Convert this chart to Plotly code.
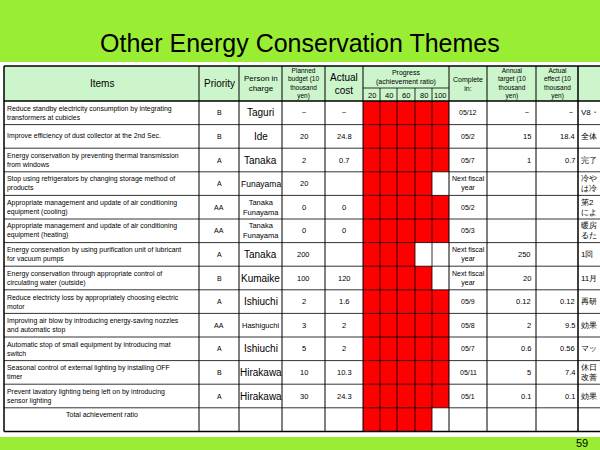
import plotly.graph_objects as go

TITLE = "Other Energy Conservation Themes"
items = [
    "Reduce standby electricity consumption by integrating<br>transformers at cubicles",
    "Improve efficiency of dust collector at the 2nd Sec.",
    "Energy conservation by preventing thermal transmission<br>from windows",
    "Stop using refrigerators by changing storage method of<br>products",
    "Appropriate management and update of air conditioning<br>equipment (cooling)",
    "Appropriate management and update of air conditioning<br>equipment (heating)",
    "Energy conservation by using purification unit of lubricant<br>for vacuum pumps",
    "Energy conservation through appropriate control of<br>circulating water (outside)",
    "Reduce electricty loss by appropriately choosing electric<br>motor",
    "Improving air blow by introducing energy-saving nozzles<br>and automatic stop",
    "Automatic stop of small equipment by introducing mat<br>switch",
    "Seasonal control of external lighting by installing OFF<br>timer",
    "Prevent lavatory lighting being left on by introducing<br>sensor lighting",
]
priority = ["B", "B", "A", "A", "AA", "AA", "A", "B", "A", "AA", "A", "B", "A"]
person = ["Taguri", "Ide", "Tanaka", "Funayama", "Tanaka<br>Funayama", "Tanaka<br>Funayama",
          "Tanaka", "Kumaike", "Ishiuchi", "Hashiguchi", "Ishiuchi", "Hirakawa", "Hirakawa"]
budget = ["－", "20", "2", "20", "0", "0", "200", "100", "2", "3", "5", "10", "30"]
cost = ["－", "24.8", "0.7", "", "0", "0", "", "120", "1.6", "2", "2", "10.3", "24.3"]
progress = [5, 5, 5, 4, 5, 5, 3, 4, 5, 5, 5, 5, 5]
total_progress = 4
complete = ["05/12", "05/2", "05/7", "Next fiscal<br>year", "05/2", "05/3", "Next fiscal<br>year",
            "Next fiscal<br>year", "05/9", "05/8", "05/7", "05/11", "05/1"]
target = ["－", "15", "1", "", "", "", "250", "20", "0.12", "2", "0.6", "5", "0.1"]
effect = ["－", "18.4", "0.7", "", "", "", "", "", "0.12", "9.5", "0.56", "7.4", "0.1"]
remarks = ["V8・", "全体", "完了", "冷や<br>は冷", "第2<br>によ",
           "暖房<br>るた", "1回", "11月", "再研", "効果", "マッ",
           "休日<br>改善", "効果"]
pct_labels = ["20", "40", "60", "80", "100"]

# column edges in pixels
cols = [4, 199, 239, 282, 325, 363, 449, 487, 536, 578, 640]
pcols = [363, 380, 397, 415, 432, 449]
top, sub, head_bot, row_h = 66, 88, 101, 23.6
n_rows = len(items) + 1
bottom = head_bot + row_h * n_rows

FONT = "Liberation Sans, Arial, sans-serif"
GREEN = "#99ee33"
HEAD = "#ccf5cc"

fig = go.Figure()
shapes = []
ann = []


def rect(x0, y0, x1, y1, fill, lw=0, lc="black"):
    shapes.append(dict(type="rect", x0=x0, x1=x1, y0=y0, y1=y1, fillcolor=fill,
                       line=dict(width=lw, color=lc), layer="below"))


def line(x0, y0, x1, y1, w=1):
    shapes.append(dict(type="line", x0=x0, x1=x1, y0=y0, y1=y1, line=dict(color="black", width=w)))


def text(x, y, s, size=8, anchor="center", color="black"):
    ann.append(dict(x=x, y=y, text=s, showarrow=False, xanchor=anchor, yanchor="middle",
                    font=dict(size=size, family=FONT, color=color), align=anchor if anchor != "center" else "center"))


rect(0, 0, 600, 62, GREEN)
rect(0, 437, 600, 450, GREEN)
rect(cols[0], top, 600, head_bot, HEAD)

# red progress cells
for r, p in enumerate(progress + [total_progress]):
    y0 = head_bot + r * row_h
    for k in range(p):
        rect(pcols[k], y0, pcols[k + 1], y0 + row_h, "#ff0000")

# grid
for i in range(n_rows + 1):
    y = head_bot + i * row_h
    line(cols[0], y, 600, y, 1.5 if i in (0, n_rows) else 0.8)
line(cols[0], top, 600, top, 1.5)
line(pcols[0], sub, pcols[-1], sub, 0.8)
for i, x in enumerate(cols[:-1]):
    line(x, top, x, bottom, 1.5 if i in (0, 9) else 1)
for x in pcols[1:-1]:
    line(x, sub, x, bottom, 0.8)

# headers
headers = ["Items", "Priority", "Person in<br>charge", "Planned<br>budget (10<br>thousand<br>yen)", "Actual<br>cost",
           None, "Complete<br>in:", "Annual<br>target (10<br>thousand<br>yen)", "Actual<br>effect (10<br>thousand<br>yen)"]
sizes = [10, 10, 8, 6.5, 10, 0, 7, 6.5, 6.5]
for i, h in enumerate(headers):
    if h:
        text((cols[i] + cols[i + 1]) / 2, (top + head_bot) / 2, h, sizes[i])
text((pcols[0] + pcols[-1]) / 2, (top + sub) / 2, "Progress<br>(achievement ratio)", 7)
for k, lab in enumerate(pct_labels):
    text((pcols[k] + pcols[k + 1]) / 2, (sub + head_bot) / 2 + 0.5, lab, 7.5)

for r in range(len(items)):
    yc = head_bot + (r + 0.5) * row_h
    text(cols[0] + 1, yc, items[r], 6.9, "left")
    text((cols[1] + cols[2]) / 2, yc, priority[r], 7)
    if "<br>" in person[r]:
        psize = 7.5
    elif len(person[r]) >= 9:
        psize = 7.5
    elif person[r] == "Funayama":
        psize = 8.5
    else:
        psize = 10
    text((cols[2] + cols[3]) / 2, yc, person[r], psize)
    text((cols[3] + cols[4]) / 2, yc, budget[r], 7.5)
    text((cols[4] + cols[5]) / 2, yc, cost[r], 7.5)
    text((cols[6] + cols[7]) / 2, yc, complete[r], 7)
    text(cols[8] - 3, yc, target[r], 7.5, "right")
    text(cols[9] - 1, yc, effect[r], 7.5, "right")
    text(cols[9] + 1, yc, remarks[r], 8, "left")
text((cols[0] + cols[1]) / 2, head_bot + (n_rows - 1) * row_h + 7, "Total achievement ratio", 7)

text(300, 43, TITLE, 25)
text(590, 443, "59", 11, "right")

fig.update_layout(
    width=600, height=450, margin=dict(l=0, r=0, t=0, b=0),
    paper_bgcolor="white", plot_bgcolor="white",
    shapes=shapes, annotations=ann, showlegend=False,
    xaxis=dict(range=[0, 600], visible=False, fixedrange=True),
    yaxis=dict(range=[450, 0], visible=False, fixedrange=True),
)
fig.write_html("out.html", config={"displayModeBar": False},
               post_script="document.body.style.margin='0';document.body.style.overflow='hidden';")
